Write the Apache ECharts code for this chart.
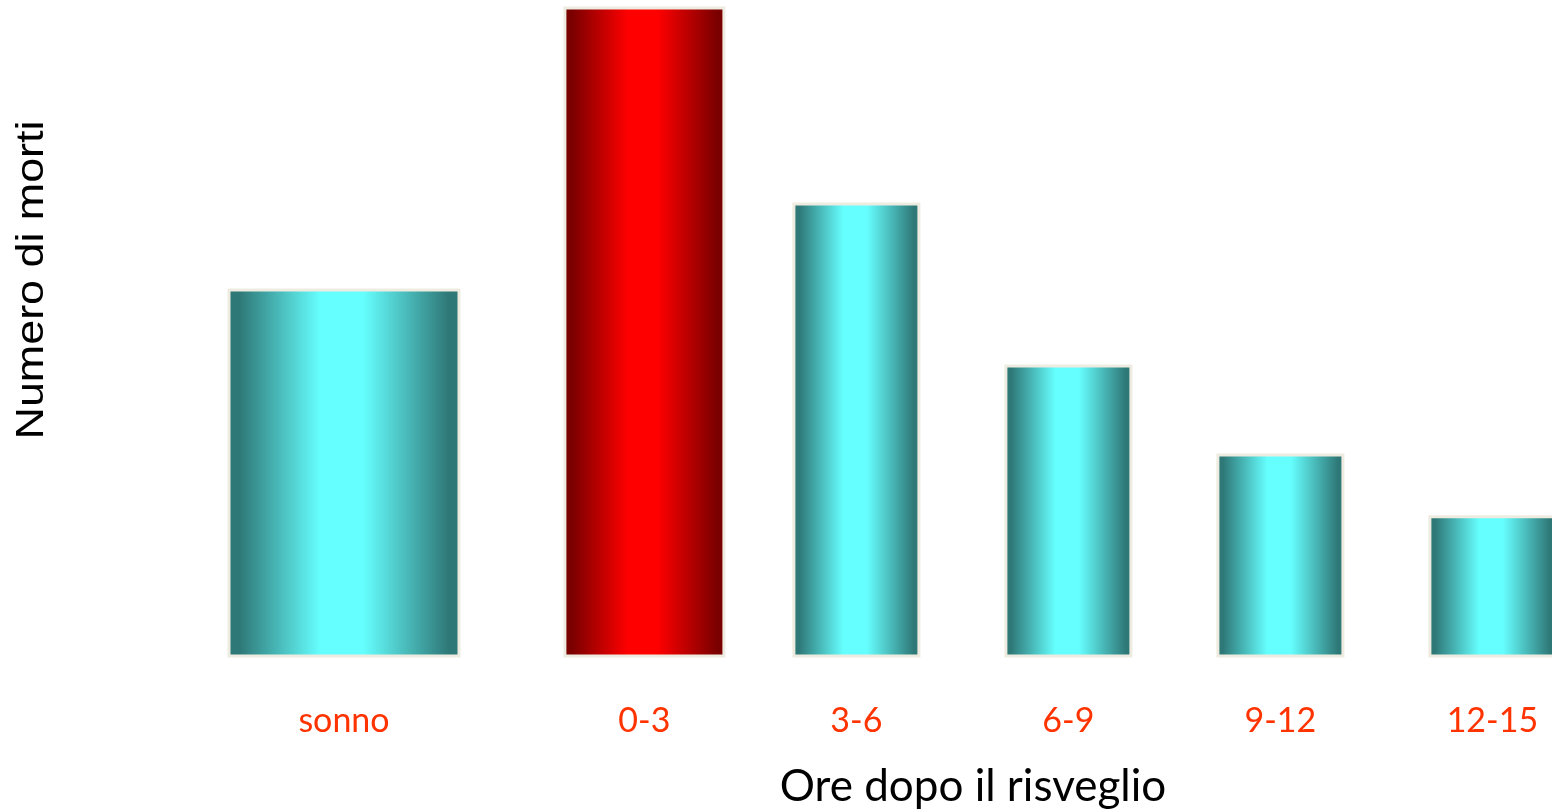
<!DOCTYPE html>
<html>
<head>
<meta charset="utf-8">
<script src="https://cdn.jsdelivr.net/npm/echarts@6/dist/echarts.min.js"></script>
<style>
html,body{margin:0;padding:0;background:#fff;}
#chart{width:1552px;height:810px;}
</style>
</head>
<body>
<div id="chart"></div>
<script>
// ---- data ----
const categories = ['sonno', '0-3', '3-6', '6-9', '9-12', '12-15'];
const deaths = [113, 200, 139.5, 89.5, 62, 43];
const yTitle = 'Numero di morti';
const xTitle = 'Ore dopo il risveglio';

// ---- layout (not data) ----
const SLEEP_GAP = 1.417;            // extra spacing between "sonno" and first hour slot (in slot units)
const xPos = i => (i === 0 ? 0 : SLEEP_GAP + (i - 1));
const positions = categories.map((_, i) => xPos(i));
const peakIndex = deaths.indexOf(Math.max(...deaths));
const BAR_W = { sleep: 230, peak: 159, other: 125 };

const chart = echarts.init(document.getElementById('chart'));

function grad(dark, bright) {
  return new echarts.graphic.LinearGradient(0, 0, 1, 0, [
    { offset: 0, color: dark },
    { offset: 0.05, color: dark },
    { offset: 0.4, color: bright },
    { offset: 0.58, color: bright },
    { offset: 0.95, color: dark },
    { offset: 1, color: dark }
  ]);
}

chart.setOption({
  backgroundColor: '#ffffff',
  animation: false,
  grid: { left: 344, right: 59.6, top: 8, bottom: 154 },
  xAxis: {
    type: 'value',
    min: 0,
    max: xPos(categories.length - 1),
    axisLine: { show: false },
    axisTick: { show: false },
    splitLine: { show: false },
    axisLabel: {
      customValues: positions,
      formatter: v => {
        const k = positions.findIndex(p => Math.abs(p - v) < 1e-6);
        return k >= 0 ? categories[k] : '';
      },
      color: '#FF3300',
      fontFamily: 'Lato',
      fontSize: 34,
      margin: 65,
      verticalAlign: 'middle'
    }
  },
  yAxis: {
    type: 'value',
    min: 0,
    max: 200,
    show: false
  },
  series: [{
    type: 'custom',
    clip: false,
    encode: { x: 0, y: 1 },
    data: categories.map((c, i) => [xPos(i), deaths[i]]),
    renderItem: (params, api) => {
      const i = params.dataIndex;
      const top = api.coord([api.value(0), api.value(1)]);
      const base = api.coord([api.value(0), 0]);
      const w = i === 0 ? BAR_W.sleep : (i === peakIndex ? BAR_W.peak : BAR_W.other);
      const fill = i === peakIndex ? grad('#7A0000', '#FF0000') : grad('#2E7877', '#66FFFF');
      return {
        type: 'rect',
        shape: { x: top[0] - w / 2, y: top[1], width: w, height: base[1] - top[1] },
        style: { fill: fill, stroke: '#EEEBE0', lineWidth: 3 }
      };
    }
  }],
  graphic: [
    {
      type: 'text',
      x: 33, y: 280,
      rotation: Math.PI / 2,
      scaleX: 1.18,
      style: {
        text: yTitle,
        font: '38px "Liberation Sans"',
        fill: '#000',
        align: 'center',
        verticalAlign: 'middle'
      }
    },
    {
      type: 'text',
      x: 973, y: 787,
      style: {
        text: xTitle,
        font: '44px Lato',
        fill: '#000',
        align: 'center',
        verticalAlign: 'middle'
      }
    }
  ]
});
</script>
</body>
</html>
